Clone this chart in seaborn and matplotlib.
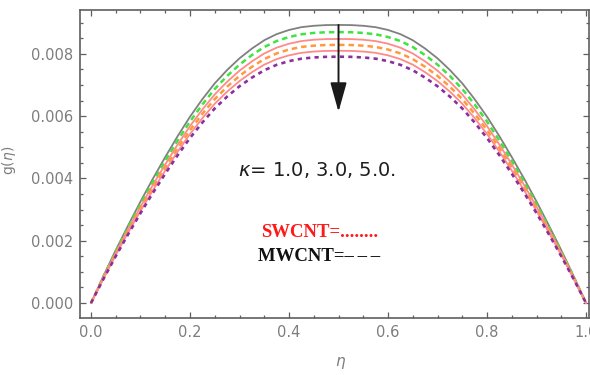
import numpy as np
import pandas as pd
import matplotlib
matplotlib.use("Agg")
import matplotlib.pyplot as plt
from matplotlib.ticker import MultipleLocator, FormatStrFormatter
import seaborn as sns

eta = [0.000, 0.025, 0.050, 0.075, 0.100, 0.125, 0.150, 0.175, 0.200, 0.225,
       0.250, 0.275, 0.300, 0.325, 0.350, 0.375, 0.400, 0.425, 0.450, 0.475,
       0.500, 0.525, 0.550, 0.575, 0.600, 0.625, 0.650, 0.675, 0.700, 0.725,
       0.750, 0.775, 0.800, 0.825, 0.850, 0.875, 0.900, 0.925, 0.950, 0.975,
       1.000]

# values in units of 1e-3
g_gray = [0, 0.866, 1.697, 2.491, 3.259, 3.992, 4.688, 5.358, 5.983, 6.546,
          7.055, 7.483, 7.858, 8.171, 8.439, 8.635, 8.769, 8.859, 8.903, 8.926,
          8.930, 8.926, 8.903, 8.859, 8.769, 8.635, 8.439, 8.171, 7.858, 7.483,
          7.055, 6.546, 5.983, 5.358, 4.688, 3.992, 3.259, 2.491, 1.697, 0.866, 0]
g_green = [0, 0.844, 1.653, 2.427, 3.176, 3.889, 4.568, 5.220, 5.829, 6.377,
           6.873, 7.291, 7.656, 7.961, 8.222, 8.413, 8.543, 8.630, 8.674, 8.696,
           8.700, 8.696, 8.674, 8.630, 8.543, 8.413, 8.222, 7.961, 7.656, 7.291,
           6.873, 6.377, 5.829, 5.220, 4.568, 3.889, 3.176, 2.427, 1.653, 0.844, 0]
g_red1 = [0, 0.823, 1.611, 2.366, 3.095, 3.791, 4.452, 5.088, 5.682, 6.216,
          6.699, 7.106, 7.462, 7.759, 8.014, 8.200, 8.327, 8.412, 8.455, 8.476,
          8.480, 8.476, 8.455, 8.412, 8.327, 8.200, 8.014, 7.759, 7.462, 7.106,
          6.699, 6.216, 5.682, 5.088, 4.452, 3.791, 3.095, 2.366, 1.611, 0.823, 0]
g_orange = [0, 0.804, 1.575, 2.313, 3.026, 3.706, 4.352, 4.974, 5.554, 6.077,
            6.549, 6.947, 7.295, 7.585, 7.834, 8.016, 8.141, 8.224, 8.265, 8.286,
            8.290, 8.286, 8.265, 8.224, 8.141, 8.016, 7.834, 7.585, 7.295, 6.947,
            6.549, 6.077, 5.554, 4.974, 4.352, 3.706, 3.026, 2.313, 1.575, 0.804, 0]
g_red2 = [0, 0.786, 1.539, 2.260, 2.957, 3.621, 4.253, 4.860, 5.427, 5.937,
          6.399, 6.788, 7.128, 7.412, 7.655, 7.833, 7.954, 8.035, 8.076, 8.096,
          8.100, 8.096, 8.076, 8.035, 7.954, 7.833, 7.655, 7.412, 7.128, 6.788,
          6.399, 5.937, 5.427, 4.860, 4.253, 3.621, 2.957, 2.260, 1.539, 0.786, 0]
g_purple = [0, 0.767, 1.503, 2.207, 2.887, 3.536, 4.153, 4.746, 5.300, 5.798,
            6.249, 6.629, 6.961, 7.238, 7.475, 7.649, 7.768, 7.847, 7.886, 7.906,
            7.910, 7.906, 7.886, 7.847, 7.768, 7.649, 7.475, 7.238, 6.961, 6.629,
            6.249, 5.798, 5.300, 4.746, 4.153, 3.536, 2.887, 2.207, 1.503, 0.767, 0]

x_ticks = [0.0, 0.2, 0.4, 0.6, 0.8, 1.0]
y_ticks = [0.000, 0.002, 0.004, 0.006, 0.008]

sns.set_theme(style="white")
plt.rcParams['font.family'] = ['DejaVu Sans']

fig = plt.figure(figsize=(5.9, 3.75), dpi=100)
ax = fig.add_axes([80/590, 57/375, 509/590, 308/375])

series = [
    (g_gray, "#808080", "-", 1.3),
    (g_green, "#3fe43f", (0, (2.2, 1.6)), 1.8),
    (g_red1, "#ff8a8a", "-", 1.3),
    (g_orange, "#ff9a3c", (0, (2.2, 1.6)), 1.8),
    (g_red2, "#ff8a8a", "-", 1.3),
    (g_purple, "#8a2f9e", (0, (1.6, 1.6)), 1.9),
]
for vals, col, ls, lw in series:
    df = pd.DataFrame({"eta": eta, "g": np.array(vals) * 1e-3})
    sns.lineplot(data=df, x="eta", y="g", ax=ax, color=col,
                 linestyle=ls, linewidth=lw, estimator=None, sort=False)

ax.set_xlim(-0.0222, 1.006)
ax.set_ylim(-0.00048, 0.00941)
ax.set_xticks(x_ticks)
ax.set_yticks(y_ticks)
ax.xaxis.set_major_formatter(FormatStrFormatter('%.1f'))
ax.yaxis.set_major_formatter(FormatStrFormatter('%.3f'))
ax.xaxis.set_minor_locator(MultipleLocator(0.05))
ax.yaxis.set_minor_locator(MultipleLocator(0.0005))

frame_col = "#5f5f5f"
for s in ax.spines.values():
    s.set_visible(True)
    s.set_color(frame_col)
    s.set_linewidth(1.2)
ax.tick_params(which='both', direction='in', top=True, right=True,
               bottom=True, left=True, color=frame_col, width=0.9,
               labelcolor="#7d7d7d", labelsize=10.5)
ax.tick_params(which='major', length=4.0, pad=5)
ax.tick_params(which='minor', length=2.5)
ax.set_xlabel(r"$\eta$", color="#7d7d7d", fontsize=11)
ax.set_ylabel(r"g($\eta$)", color="#7d7d7d", fontsize=10)
ax.xaxis.set_label_coords(0.511, -0.12)
ax.yaxis.set_label_coords(-0.122, 0.513)
ax.grid(False)

ax.annotate("", xy=(0.5, 0.00614), xytext=(0.5, 0.00893),
            arrowprops=dict(arrowstyle="-|>,head_length=1.5,head_width=0.42",
                            color="#1a1a1a", lw=1.4, shrinkA=0, shrinkB=0))

ax.text(0.457, 0.00427, r"$\kappa$= 1.0, 3.0, 5.0.", fontsize=14,
        color="#1e1e1e", ha="center", va="center")
ax.text(0.461, 0.00225, "SWCNT=........", fontsize=13.5, color="#ff1a1a",
        family=["Liberation Serif", "DejaVu Serif"], fontweight="bold",
        ha="center", va="center")
ax.text(0.461, 0.00148, "MWCNT=\u2013\u2009\u2013\u2009\u2013", fontsize=13.5,
        color="#111111", family=["Liberation Serif", "DejaVu Serif"],
        fontweight="bold", ha="center", va="center")

fig.savefig("out.png", dpi=100)
